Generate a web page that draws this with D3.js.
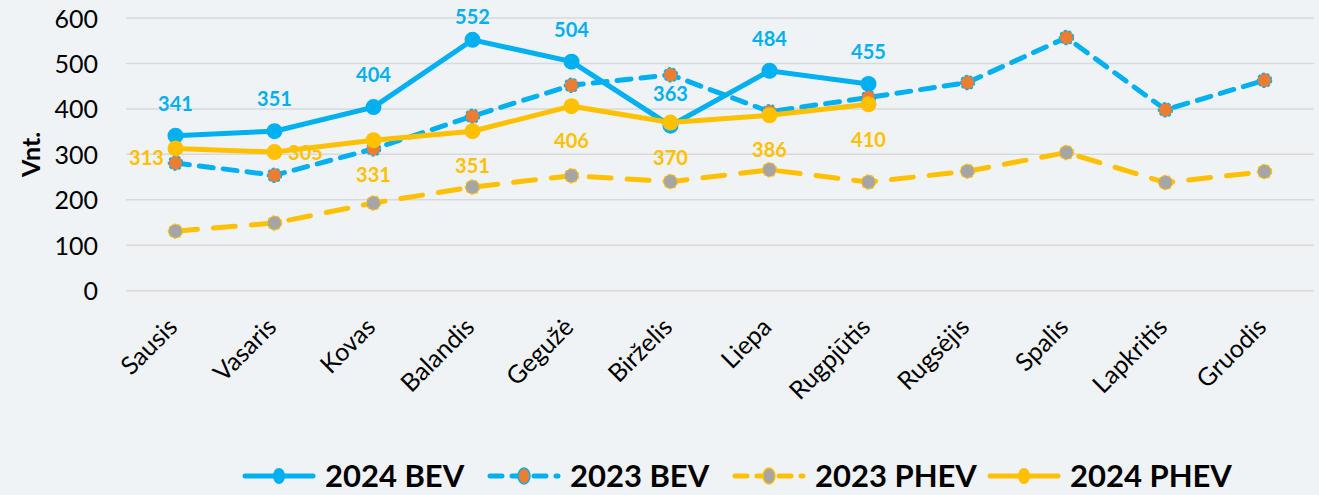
<!DOCTYPE html>
<html>
<head>
<meta charset="utf-8">
<script src="https://cdn.jsdelivr.net/npm/d3@7"></script>
<style>
  body { margin: 0; background: #eff3f6; }
  svg { display: block; font-family: Lato, "Open Sans", sans-serif; }
</style>
</head>
<body>
<svg></svg>
<script>
// months
const months = ['Sausis', 'Vasaris', 'Kovas', 'Balandis', 'Gegužė', 'Birželis',
  'Liepa', 'Rugpjūtis', 'Rugsėjis', 'Spalis', 'Lapkritis', 'Gruodis'];

// series values (Vnt.)
const bev2024 = [341, 351, 404, 552, 504, 363, 484, 455];
const bev2023 = [281, 254, 312, 384, 452, 475, 394, 425, 458, 557, 398, 463];
const phev2023 = [131, 149, 193, 228, 253, 240, 266, 239, 263, 304, 238, 262];
const phev2024 = [313, 305, 331, 351, 406, 370, 386, 410];

const yTicks = [0, 100, 200, 300, 400, 500, 600];

const width = 1319, height = 495;
const margin = { left: 126, right: 5, top: 18, bottom: 204 };

const blue = '#00b0f0', yellow = '#ffc000', orange = '#ed7d31', grey = '#a5a5a5';

const svg = d3.select('svg').attr('width', width).attr('height', height);

const x = d3.scalePoint()
    .domain(months)
    .range([margin.left, width - margin.right])
    .padding(0.5);

const y = d3.scaleLinear()
    .domain([0, 600])
    .range([height - margin.bottom - 0.3, margin.top]);

// gridlines
svg.append('g')
  .selectAll('line')
  .data(yTicks)
  .enter()
  .append('line')
  .attr('x1', margin.left)
  .attr('x2', width - margin.right)
  .attr('y1', d => y(d))
  .attr('y2', d => y(d))
  .attr('stroke', '#d9d9d9')
  .attr('stroke-width', 1.5);

// y axis
const yAxis = svg.append('g')
  .attr('transform', `translate(${margin.left - 28},0)`)
  .call(d3.axisLeft(y).tickValues(yTicks).tickSize(0).tickPadding(0));
yAxis.select('.domain').remove();
yAxis.selectAll('text')
  .attr('font-size', 25)
  .attr('font-family', 'Lato, sans-serif')
  .attr('fill', '#000')
  .attr('dy', '0.36em');

// x axis
const xAxis = svg.append('g')
  .attr('transform', `translate(0,${y(0)})`)
  .call(d3.axisBottom(x).tickSize(0).tickPadding(0));
xAxis.select('.domain').remove();
xAxis.selectAll('text')
  .attr('font-size', 25)
  .attr('font-family', 'Lato, sans-serif')
  .attr('fill', '#000')
  .attr('text-anchor', 'end')
  .attr('dy', 0)
  .attr('transform', 'translate(3,38) rotate(-45)');

// y axis title
svg.append('text')
  .attr('transform', `translate(40,${y(300)}) rotate(-90)`)
  .attr('text-anchor', 'middle')
  .attr('font-size', 25)
  .attr('font-weight', 'bold')
  .text('Vnt.');

const series = [
  { name: '2024 BEV', values: bev2024, stroke: blue, fill: blue, dash: null, r: 8 },
  { name: '2023 BEV', values: bev2023, stroke: blue, fill: orange, dash: '14,10', r: 7 },
  { name: '2023 PHEV', values: phev2023, stroke: yellow, fill: grey, dash: '22,16', r: 7 },
  { name: '2024 PHEV', values: phev2024, stroke: yellow, fill: yellow, dash: null, r: 8 }
];

const line = d3.line()
  .x((d, i) => x(months[i]))
  .y(d => y(d));

series.forEach(s => {
  const g = svg.append('g');
  g.append('path')
    .datum(s.values)
    .attr('d', line)
    .attr('fill', 'none')
    .attr('stroke', s.stroke)
    .attr('stroke-width', 5)
    .attr('stroke-linecap', 'round')
    .attr('stroke-dasharray', s.dash);
  g.selectAll('circle')
    .data(s.values)
    .enter()
    .append('circle')
    .attr('cx', (d, i) => x(months[i]))
    .attr('cy', d => y(d))
    .attr('r', s.r)
    .attr('fill', s.fill)
    .attr('stroke', s.stroke)
    .attr('stroke-width', s.dash ? 1.5 : 0)
    .attr('stroke-dasharray', s.dash ? '3,2' : null);
});

// data labels for 2024 BEV (above)
svg.append('g')
  .selectAll('text')
  .data(bev2024)
  .enter()
  .append('text')
  .attr('x', (d, i) => x(months[i]))
  .attr('y', d => Math.max(y(d) - 32, 17))
  .attr('dy', '0.36em')
  .attr('text-anchor', 'middle')
  .attr('font-size', 20)
  .attr('font-weight', 'bold')
  .attr('fill', blue)
  .text(d => d);

// data labels for 2024 PHEV (below, first two moved aside)
svg.append('g')
  .selectAll('text')
  .data(phev2024)
  .enter()
  .append('text')
  .attr('x', (d, i) => x(months[i]) + (i === 0 ? -29 : i === 1 ? 31 : 0))
  .attr('y', (d, i) => y(d) + (i === 0 ? 9 : i === 1 ? 1 : 35))
  .attr('dy', '0.36em')
  .attr('text-anchor', 'middle')
  .attr('font-size', 20)
  .attr('font-weight', 'bold')
  .attr('fill', yellow)
  .text(d => d);

// legend
const legendX = [245, 490, 735, 990];
const legend = svg.append('g')
  .selectAll('g')
  .data(series)
  .enter()
  .append('g')
  .attr('transform', (d, i) => `translate(${legendX[i]},476)`);

legend.append('line')
  .attr('x1', 0).attr('x2', 68)
  .attr('stroke', d => d.stroke)
  .attr('stroke-width', 5)
  .attr('stroke-linecap', 'round')
  .attr('stroke-dasharray', d => d.dash ? '12,10' : null);

legend.append('ellipse')
  .attr('cx', 34)
  .attr('rx', 6).attr('ry', 8)
  .attr('fill', d => d.fill)
  .attr('stroke', d => d.stroke)
  .attr('stroke-width', d => d.dash ? 1.5 : 0);

legend.append('text')
  .attr('x', 80)
  .attr('dy', '0.36em')
  .attr('font-size', 31)
  .attr('font-weight', 'bold')
  .attr('fill', '#000')
  .text(d => d.name);
</script>
</body>
</html>
